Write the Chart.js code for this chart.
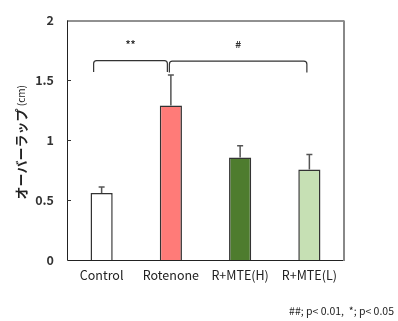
<!DOCTYPE html>
<html>
<head>
<meta charset="utf-8">
<script src="https://cdn.jsdelivr.net/npm/chart.js@4/dist/chart.umd.min.js"></script>
<style>
  html, body { margin: 0; padding: 0; background: #fff; }
  #wrap { width: 398px; height: 321px; }
</style>
</head>
<body>
<div id="wrap"><canvas id="chart" width="398" height="321"></canvas></div>
<script>
// data
const groups = ['Control', 'Rotenone', 'R+MTE(H)', 'R+MTE(L)'];
const means = [0.56, 1.29, 0.855, 0.755];
const errors = [0.05, 0.255, 0.10, 0.125];
const fills = ['#ffffff', '#ff7b78', '#4e7c2e', '#c6e0b4'];
const yTicks = [0, 0.5, 1, 1.5, 2];
const yTitle = 'オーバーラップ';
const yUnit = '(cm)';
const footnote = '##; p< 0.01,  *; p< 0.05';

// significance brackets: from group, to group, mark, level
const brackets = [
  { from: 0, to: 1, mark: '**', level: 1.665 },
  { from: 1, to: 3, mark: '#', level: 1.66 }
];

const FONT = "'Noto Sans CJK JP', 'Noto Sans', sans-serif";

// error bars, brackets, frame and axis title
const extras = {
  id: 'extras',
  afterDatasetsDraw(chart) {
    const ctx = chart.ctx;
    const x = chart.scales.x;
    const y = chart.scales.y;
    const area = chart.chartArea;
    ctx.save();

    // one-sided error bars with caps
    ctx.strokeStyle = '#555';
    ctx.lineWidth = 1.5;
    means.forEach((m, i) => {
      const cx = x.getPixelForValue(i);
      const y0 = y.getPixelForValue(m);
      const y1 = y.getPixelForValue(m + errors[i]);
      ctx.beginPath();
      ctx.moveTo(cx, y0);
      ctx.lineTo(cx, y1);
      ctx.moveTo(cx - 3, y1);
      ctx.lineTo(cx + 3, y1);
      ctx.stroke();
    });

    // frame
    ctx.lineWidth = 1;
    ctx.strokeStyle = '#222';
    ctx.beginPath();
    ctx.moveTo(area.left + 0.5, area.top);
    ctx.lineTo(area.left + 0.5, area.bottom + 0.5);
    ctx.lineTo(area.right, area.bottom + 0.5);
    ctx.moveTo(area.left, area.top + 0.5);
    ctx.lineTo(area.right, area.top + 0.5);
    ctx.stroke();
    ctx.strokeStyle = '#888';
    ctx.lineWidth = 2;
    ctx.beginPath();
    ctx.moveTo(area.right, area.top);
    ctx.lineTo(area.right, area.bottom + 1);
    ctx.stroke();

    // inward tick marks
    ctx.strokeStyle = '#333';
    ctx.lineWidth = 1;
    y.ticks.forEach(t => {
      if (t.value === 0 || t.value === 2) return;
      const py = Math.round(y.getPixelForValue(t.value)) + 0.5;
      ctx.beginPath();
      ctx.moveTo(area.left, py);
      ctx.lineTo(area.left + 4, py);
      ctx.stroke();
    });

    // brackets
    ctx.strokeStyle = '#333';
    ctx.lineWidth = 1.2;
    ctx.fillStyle = '#333';
    ctx.font = 'bold 10px ' + FONT;
    ctx.textAlign = 'center';
    ctx.textBaseline = 'middle';
    brackets.forEach(b => {
      const xl = x.getPixelForValue(b.from) + (b.from === 0 ? -8 : -1.5);
      const xr = x.getPixelForValue(b.to) + (b.to === 3 ? -2.5 : -3.5);
      const yt = y.getPixelForValue(b.level);
      const yb = y.getPixelForValue(b.level - 0.095);
      const r = 3;
      ctx.beginPath();
      ctx.moveTo(xl, yb);
      ctx.arcTo(xl, yt, xl + r, yt, r);
      ctx.arcTo(xr, yt, xr, yt + r, r);
      ctx.lineTo(xr, yb);
      ctx.stroke();
      ctx.fillText(b.mark, (xl + xr) / 2, y.getPixelForValue(b.level + 0.14));
    });

    // rotated y-axis title
    ctx.save();
    ctx.translate(21, (area.top + area.bottom) / 2 + 2);
    ctx.rotate(-Math.PI / 2);
    ctx.fillStyle = '#222';
    ctx.textBaseline = 'middle';
    ctx.textAlign = 'left';
    ctx.font = 'bold 13px ' + FONT;
    const w1 = ctx.measureText(yTitle).width;
    ctx.font = '10px ' + FONT;
    const w2 = ctx.measureText(' ' + yUnit).width;
    const start = -(w1 + w2) / 2;
    ctx.font = 'bold 13px ' + FONT;
    ctx.fillText(yTitle, start, 0);
    ctx.font = '10px ' + FONT;
    ctx.fillText(' ' + yUnit, start + w1, 0);
    ctx.restore();

    // footnote
    ctx.fillStyle = '#222';
    ctx.font = '10.5px ' + FONT;
    ctx.textAlign = 'right';
    ctx.textBaseline = 'middle';
    ctx.fillText(footnote, 394, 311);

    ctx.restore();
  }
};

new Chart(document.getElementById('chart'), {
  type: 'bar',
  data: {
    labels: groups,
    datasets: [{
      data: means,
      backgroundColor: fills,
      borderColor: '#333',
      borderWidth: 1.5,
      barPercentage: 0.32,
      categoryPercentage: 1
    }]
  },
  options: {
    responsive: false,
    animation: false,
    layout: { padding: { top: 19, right: 54, left: 0, bottom: 0 } },
    plugins: {
      legend: { display: false },
      tooltip: { enabled: false }
    },
    scales: {
      x: {
        grid: { display: false, drawTicks: false },
        border: { display: false },
        ticks: {
          color: '#222',
          padding: 8,
          font: { family: FONT, size: 12.5 }
        },
        afterFit(scale) { scale.height = 61; }
      },
      y: {
        min: 0,
        max: 2,
        afterBuildTicks(scale) { scale.ticks = yTicks.map(v => ({ value: v })); },
        grid: { display: false, drawTicks: false },
        border: { display: false },
        ticks: {
          color: '#333',
          padding: 13,
          font: { family: FONT, size: 12.5, weight: 'bold' },
          callback: v => String(v)
        },
        afterFit(scale) { scale.width = 67; }
      }
    }
  },
  plugins: [extras]
});
</script>
</body>
</html>
